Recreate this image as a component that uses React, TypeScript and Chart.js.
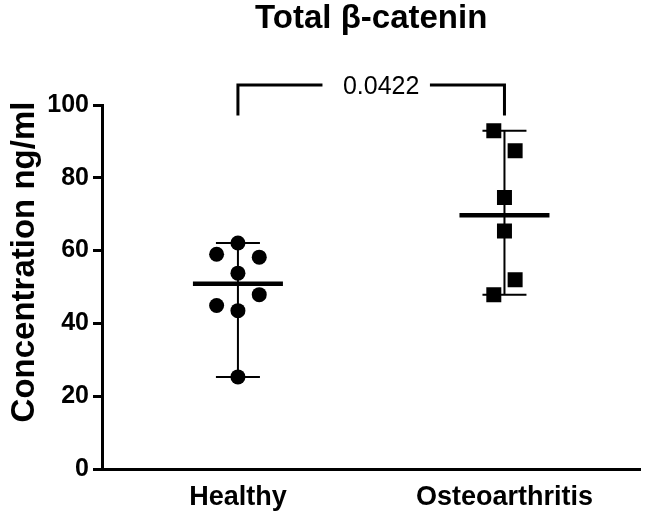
import React, { useEffect, useRef } from "react";
import { Chart, registerables } from "chart.js";

Chart.register(...registerables);

// ---- data ----
const categories = ["Healthy", "Osteoarthritis"];
const healthyValues = [62.1, 59.0, 58.2, 53.8, 47.9, 44.9, 43.5, 25.3];
const healthyJitter = [0, -0.08, 0.08, 0, 0.08, -0.08, 0, 0];
const oaValues = [92.9, 87.4, 74.6, 65.4, 52.0, 47.9];
const oaJitter = [-0.04, 0.04, 0, 0, 0.04, -0.04];
const groupMeans = [50.9, 69.7];
const yTicks = [0, 20, 40, 60, 80, 100];
const pValueLabel = "0.0422";
const bracketLevel = 105.5;
const bracketLegEnd = 97.5;
const chartTitle = "Total \u03b2-catenin";
const yTitle = "Concentration ng/ml";

const FONT = "'Liberation Sans', Arial, Helvetica, sans-serif";

const overlayPlugin = {
  id: "overlay",
  beforeDatasetsDraw(chart: any) {
    const { ctx } = chart;
    const x = chart.scales.x;
    const y = chart.scales.y;
    ctx.save();
    ctx.strokeStyle = "#000";
    [healthyValues, oaValues].forEach((vals, i) => {
      const cx = x.getPixelForValue(i + 1);
      const lo = y.getPixelForValue(Math.min(...vals));
      const hi = y.getPixelForValue(Math.max(...vals));
      ctx.lineWidth = 2;
      ctx.beginPath();
      ctx.moveTo(cx, lo);
      ctx.lineTo(cx, hi);
      ctx.moveTo(cx - 22, lo);
      ctx.lineTo(cx + 22, lo);
      ctx.moveTo(cx - 22, hi);
      ctx.lineTo(cx + 22, hi);
      ctx.stroke();
      const m = y.getPixelForValue(groupMeans[i]);
      ctx.lineWidth = 4.5;
      ctx.beginPath();
      ctx.moveTo(cx - 45, m);
      ctx.lineTo(cx + 45, m);
      ctx.stroke();
    });
    ctx.restore();
  },
  afterDraw(chart: any) {
    const { ctx, chartArea } = chart;
    const x = chart.scales.x;
    const y = chart.scales.y;
    ctx.save();
    ctx.fillStyle = "#000";
    ctx.strokeStyle = "#000";

    // chart title
    ctx.font = `bold 33px ${FONT}`;
    ctx.textAlign = "center";
    ctx.textBaseline = "alphabetic";
    ctx.fillText(chartTitle, (chartArea.left + chartArea.right) / 2, 28);

    // y axis title
    ctx.save();
    ctx.translate(34, 262);
    ctx.rotate(-Math.PI / 2);
    ctx.font = `bold 33px ${FONT}`;
    ctx.textAlign = "center";
    ctx.textBaseline = "alphabetic";
    ctx.fillText(yTitle, 0, 0);
    ctx.restore();

    // significance bracket with p-value
    const x1 = x.getPixelForValue(1);
    const x2 = x.getPixelForValue(2);
    const yb = y.getPixelForValue(bracketLevel);
    const yl = y.getPixelForValue(bracketLegEnd);
    ctx.font = `25px ${FONT}`;
    const tw = ctx.measureText(pValueLabel).width;
    const mid = (x1 + x2) / 2 + 10;
    const gapL = mid - tw / 2 - 22;
    const gapR = mid + tw / 2 + 12;
    ctx.lineWidth = 3;
    ctx.lineCap = "square";
    ctx.beginPath();
    ctx.moveTo(x1, yl);
    ctx.lineTo(x1, yb);
    ctx.lineTo(gapL, yb);
    ctx.moveTo(gapR, yb);
    ctx.lineTo(x2, yb);
    ctx.lineTo(x2, yl);
    ctx.stroke();
    ctx.textAlign = "center";
    ctx.textBaseline = "middle";
    ctx.fillText(pValueLabel, mid, yb + 2);
    ctx.restore();
  },
};

export default function App() {
  const canvasRef = useRef<HTMLCanvasElement | null>(null);

  useEffect(() => {
    const canvas = canvasRef.current;
    if (!canvas) return;
    const chart = new Chart(canvas, {
      type: "scatter",
      data: {
        datasets: [
          {
            label: categories[0],
            data: healthyValues.map((v, i) => ({ x: 1 + healthyJitter[i], y: v })),
            pointStyle: "circle",
            pointRadius: 7.5,
            pointBackgroundColor: "#000",
            pointBorderColor: "#000",
            pointBorderWidth: 0,
          },
          {
            label: categories[1],
            data: oaValues.map((v, i) => ({ x: 2 + oaJitter[i], y: v })),
            pointStyle: "rect",
            pointRadius: 10.6,
            pointBackgroundColor: "#000",
            pointBorderColor: "#000",
            pointBorderWidth: 0,
          },
        ],
      },
      options: {
        animation: false,
        responsive: false,
        maintainAspectRatio: false,
        layout: { padding: { top: 105, left: 0, right: 0, bottom: 0 } },
        plugins: {
          legend: { display: false },
          tooltip: { enabled: false },
          title: { display: false },
        },
        scales: {
          x: {
            type: "linear",
            min: 0.49,
            max: 2.51,
            afterBuildTicks: (s: any) => {
              s.ticks = categories.map((_, i) => ({ value: i + 1 }));
            },
            afterFit: (s: any) => {
              s.height = 46;
            },
            ticks: {
              callback: (_v: any, i: number) => categories[i],
              font: { family: FONT, size: 27, weight: "bold" },
              color: "#000",
              padding: 12,
              maxRotation: 0,
              autoSkip: false,
            },
            grid: { display: false, drawTicks: false },
            border: { display: true, color: "#000", width: 3 },
          },
          y: {
            min: 0,
            max: 100,
            afterBuildTicks: (s: any) => {
              s.ticks = yTicks.map((v) => ({ value: v }));
            },
            afterFit: (s: any) => {
              s.width = 102;
            },
            ticks: {
              font: { family: FONT, size: 25, weight: "bold" },
              color: "#000",
              padding: 4,
            },
            grid: {
              drawOnChartArea: false,
              drawTicks: true,
              tickLength: 9,
              tickWidth: 3,
              tickColor: "#000",
              color: "#000",
            },
            border: { display: true, color: "#000", width: 3 },
          },
        },
      },
      plugins: [overlayPlugin],
    } as any);
    return () => chart.destroy();
  }, []);

  return (
    <div style={{ position: "fixed", left: 0, top: 0, width: 651, height: 515, background: "#fff" }}>
      <canvas ref={canvasRef} width={651} height={515} style={{ display: "block" }} />
    </div>
  );
}
